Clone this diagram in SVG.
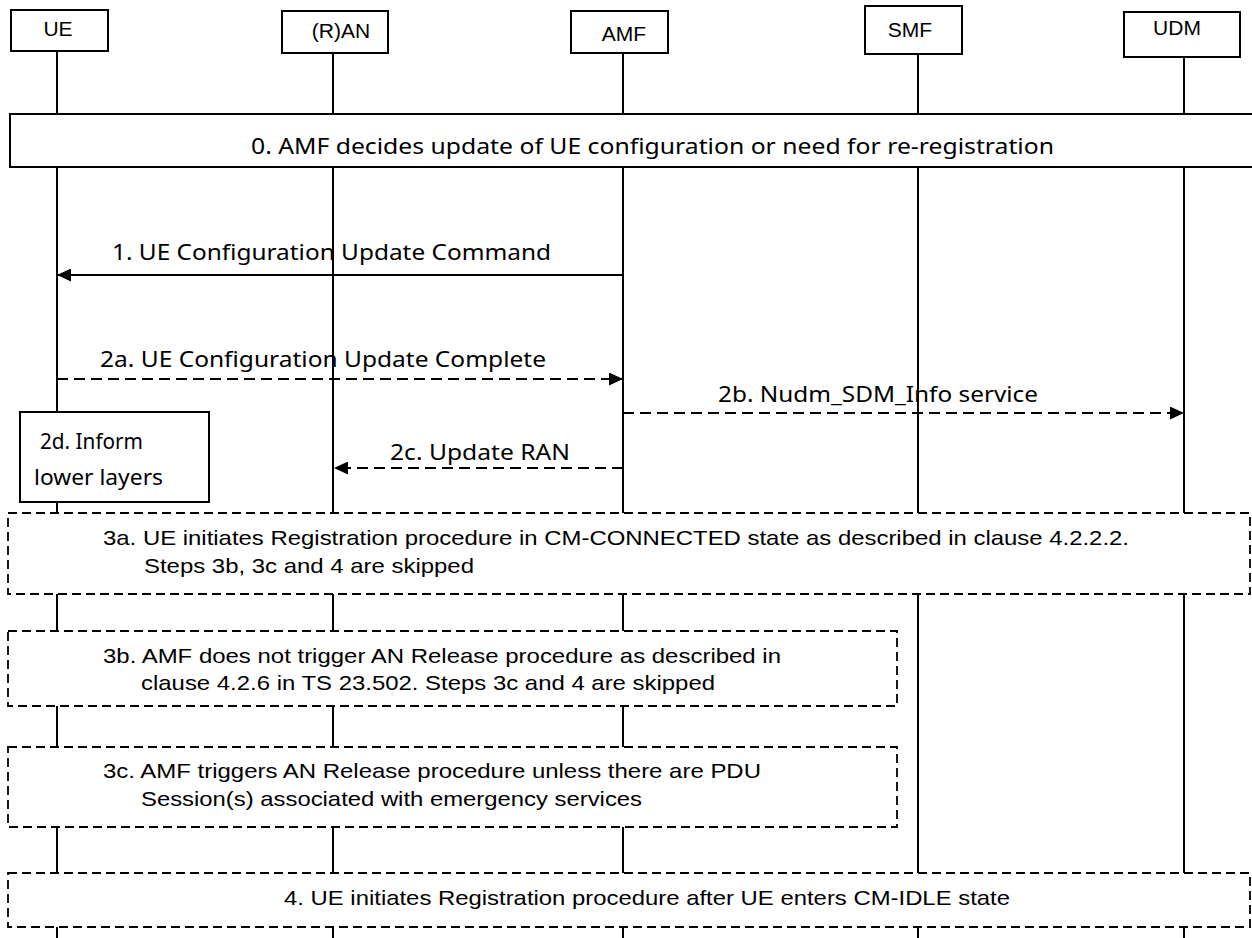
<svg xmlns="http://www.w3.org/2000/svg" width="1252" height="938" viewBox="0 0 1252 938">
<defs>
<marker id="ah" markerWidth="14" markerHeight="13" refX="14" refY="6.5" orient="auto" markerUnits="userSpaceOnUse"><path d="M0,0 L14,6.5 L0,13 Z" fill="#000"/></marker>
<style>
.hdr{fill:#fff;stroke:#000;stroke-width:2}
.hl{font-family:"Liberation Sans",Arial,sans-serif;font-size:21px;text-anchor:middle;fill:#000}
.life{stroke:#000;stroke-width:2;fill:none}
.solid{fill:#fff;stroke:#000;stroke-width:2}
.dbox{fill:#fff;stroke:#000;stroke-width:1.8;stroke-dasharray:9 5}
.nt{font-family:"Noto Sans","Open Sans",sans-serif;font-size:22px;fill:#000}
.at{font-family:"Liberation Sans",Arial,sans-serif;font-size:21px;fill:#000}
.msg{stroke:#000;stroke-width:2;fill:none;marker-end:url(#ah)}
.dash{stroke-dasharray:11 6}
</style>
</defs>
<rect width="1252" height="938" fill="#fff"/>
<g id="lifelines">
<path class="life" d="M57,51 V938"/>
<path class="life" d="M333,53 V938"/>
<path class="life" d="M623,53 V938"/>
<path class="life" d="M918,54 V938"/>
<path class="life" d="M1184,57 V938"/>
</g>
<g id="ue"><rect class="hdr" x="11" y="10" width="97" height="41"/><text class="hl" x="58" y="36">UE</text></g>
<g id="ran"><rect class="hdr" x="282" y="11" width="106" height="42"/><text class="hl" x="341" y="38">(R)AN</text></g>
<g id="amf"><rect class="hdr" x="571" y="11" width="97" height="42"/><text class="hl" x="624" y="41">AMF</text></g>
<g id="smf"><rect class="hdr" x="865" y="6" width="97" height="48"/><text class="hl" x="910" y="37">SMF</text></g>
<g id="udm"><rect class="hdr" x="1124" y="12" width="116" height="45"/><text class="hl" x="1177" y="35">UDM</text></g>

<g id="step0"><rect class="solid" x="10" y="114" width="1262" height="53"/><text class="nt" x="251" y="154" font-size="23" textLength="803" lengthAdjust="spacingAndGlyphs">0.  AMF decides update of UE configuration or need for re-registration</text></g>

<g id="step2d"><rect class="solid" x="20" y="412" width="189" height="90"/>
<text class="nt" x="40" y="449" textLength="103" lengthAdjust="spacingAndGlyphs">2d. Inform</text>
<text class="nt" x="34" y="485" textLength="129" lengthAdjust="spacingAndGlyphs">lower layers</text></g>

<g id="step3a"><rect class="dbox" x="8" y="513" width="1242" height="81"/>
<text class="at" x="103" y="545" textLength="1026" lengthAdjust="spacingAndGlyphs">3a. UE initiates Registration procedure in CM-CONNECTED state as described in clause 4.2.2.2.</text>
<text class="at" x="144" y="573" textLength="330" lengthAdjust="spacingAndGlyphs">Steps 3b, 3c and 4 are skipped</text></g>

<g id="step3b"><rect class="dbox" x="8" y="631" width="889" height="75"/>
<text class="at" x="103" y="663" textLength="678" lengthAdjust="spacingAndGlyphs">3b. AMF does not trigger AN Release procedure as described in</text>
<text class="at" x="141" y="690" textLength="574" lengthAdjust="spacingAndGlyphs">clause 4.2.6 in TS 23.502. Steps 3c and 4 are skipped</text></g>

<g id="step3c"><rect class="dbox" x="8" y="747" width="889" height="80"/>
<text class="at" x="103" y="778" textLength="658" lengthAdjust="spacingAndGlyphs">3c. AMF triggers AN Release procedure unless there are PDU</text>
<text class="at" x="141" y="806" textLength="501" lengthAdjust="spacingAndGlyphs">Session(s) associated with emergency services</text></g>

<g id="step4"><rect class="dbox" x="8" y="873" width="1242" height="54"/>
<text class="at" x="284" y="905" textLength="726" lengthAdjust="spacingAndGlyphs">4. UE initiates Registration procedure after UE enters CM-IDLE state</text></g>

<g id="connectors">
<path class="msg" d="M623,275 H57"/>
<path class="msg dash" d="M57,379 H623"/>
<path class="msg dash" d="M623,413 H1184"/>
<path class="msg dash" d="M623,468 H334"/>
</g>
<g id="labels">
<text class="nt" x="112" y="260" textLength="439" lengthAdjust="spacingAndGlyphs">1. UE Configuration Update Command</text>
<text class="nt" x="100" y="367" textLength="446" lengthAdjust="spacingAndGlyphs">2a. UE Configuration Update Complete</text>
<text class="nt" x="718" y="402" textLength="320" lengthAdjust="spacingAndGlyphs">2b. Nudm_SDM_Info service</text>
<text class="nt" x="390" y="460" textLength="180" lengthAdjust="spacingAndGlyphs">2c. Update RAN</text>
</g>
</svg>
